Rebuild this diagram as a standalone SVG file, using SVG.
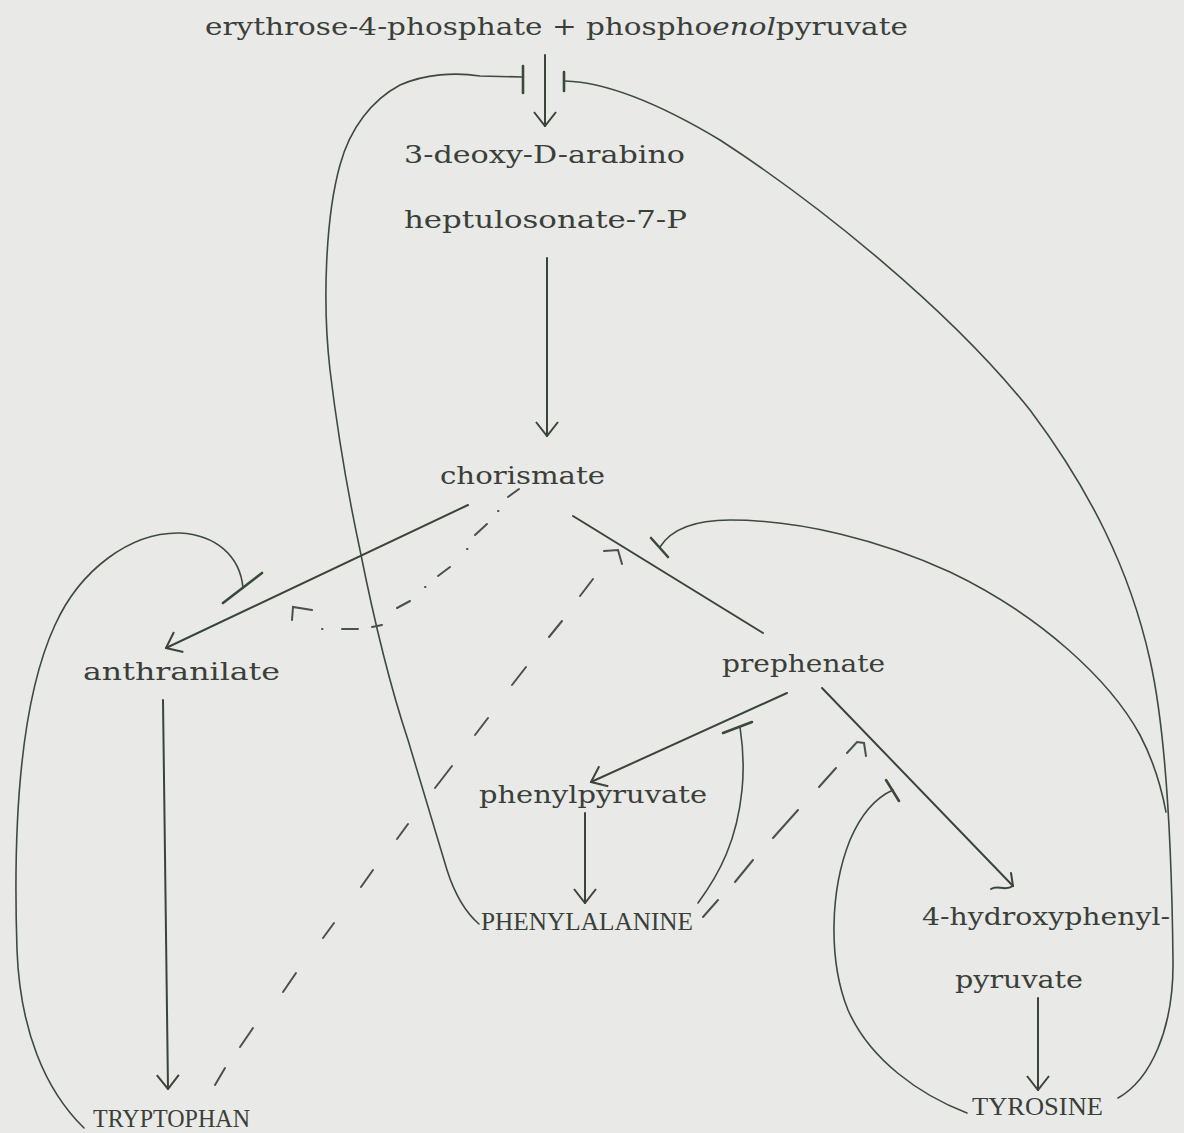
<svg xmlns="http://www.w3.org/2000/svg" width="1184" height="1133" viewBox="0 0 1184 1133">
<defs>
<marker id="arr" viewBox="0 0 16 24" refX="15" refY="12" markerWidth="16" markerHeight="24" markerUnits="userSpaceOnUse" orient="auto">
<path d="M1,1 L15,12 L1,23" fill="none" stroke="#3a4439" stroke-width="2"/>
</marker>
<style>
.t{font-family:"DejaVu Serif","Liberation Serif",serif;font-size:25px;fill:#3a4038}
.c{font-family:"Liberation Serif","Times New Roman",serif;font-size:26px;fill:#3a4038}
.ln{fill:none;stroke:#3a4439;stroke-width:2;stroke-linecap:round}
.cv{fill:none;stroke:#3e4a3d;stroke-width:1.6;stroke-linecap:round}
.bar{fill:none;stroke:#3a4a38;stroke-width:2.6;stroke-linecap:round}
.ds{fill:none;stroke:#4a504a;stroke-width:2;stroke-linecap:round}
</style>
</defs>
<rect width="1184" height="1133" fill="#e9eae8"/>

<g id="nodes">
<g id="n-e4p"><text class="t" x="205" y="35" textLength="703" lengthAdjust="spacingAndGlyphs">erythrose-4-phosphate + phospho<tspan font-style="italic">enol</tspan>pyruvate</text></g>
<g id="n-dahp"><text class="t" x="404" y="163" textLength="281" lengthAdjust="spacingAndGlyphs">3-deoxy-D-arabino</text><text class="t" x="404" y="228" textLength="283" lengthAdjust="spacingAndGlyphs">heptulosonate-7-P</text></g>
<g id="n-chorismate"><text class="t" x="440" y="484" textLength="165" lengthAdjust="spacingAndGlyphs">chorismate</text></g>
<g id="n-anthranilate"><text class="t" x="83" y="680" textLength="197" lengthAdjust="spacingAndGlyphs">anthranilate</text></g>
<g id="n-prephenate"><text class="t" x="722" y="672" textLength="163" lengthAdjust="spacingAndGlyphs">prephenate</text></g>
<g id="n-phenylpyruvate"><text class="t" x="479" y="803" textLength="228" lengthAdjust="spacingAndGlyphs">phenylpyruvate</text></g>
<g id="n-phe"><text class="c" x="481" y="930" textLength="212" lengthAdjust="spacingAndGlyphs">PHENYLALANINE</text></g>
<g id="n-trp"><text class="c" x="93" y="1127" textLength="157" lengthAdjust="spacingAndGlyphs">TRYPTOPHAN</text></g>
<g id="n-4hpp"><text class="t" x="922" y="925" textLength="248" lengthAdjust="spacingAndGlyphs">4-hydroxyphenyl-</text><text class="t" x="955" y="988" textLength="128" lengthAdjust="spacingAndGlyphs">pyruvate</text></g>
<g id="n-tyr"><text class="c" x="972" y="1115" textLength="131" lengthAdjust="spacingAndGlyphs">TYROSINE</text></g>
</g>

<g id="connectors">
<line class="ln" x1="545" y1="55" x2="545" y2="126" marker-end="url(#arr)"/>
<line class="ln" x1="547" y1="258" x2="547" y2="436" marker-end="url(#arr)"/>
<line class="ln" x1="468" y1="505" x2="166" y2="648" marker-end="url(#arr)"/>
<line class="ln" x1="163" y1="700" x2="168" y2="1089" marker-end="url(#arr)"/>
<line class="ln" x1="573" y1="516" x2="763" y2="633"/>
<line class="ln" x1="787" y1="693" x2="591" y2="782" marker-end="url(#arr)"/>
<line class="ln" x1="585" y1="813" x2="585" y2="903" marker-end="url(#arr)"/>
<line class="ln" x1="822" y1="688" x2="1013" y2="886"/>
<path class="ln" d="M991,889 C998,884 1004,892 1013,886 L1011,873"/>
<line class="ln" x1="1038" y1="998" x2="1038" y2="1090" marker-end="url(#arr)"/>

<path class="cv" d="M523,77 L480,76 C455,72 425,74 400,85 C372,100 350,128 340,165 C326,215 322,300 330,370 C336,420 345,480 360,550 C372,610 388,680 408,740 C423,790 435,830 447,870 C455,895 465,912 479,924"/>
<line class="bar" x1="523" y1="66" x2="523" y2="93"/>
<path class="cv" d="M565,81 C600,82 650,98 720,140 C820,205 950,310 1030,410 C1090,490 1130,570 1150,660 C1168,740 1172,870 1173,960 C1174,1030 1150,1080 1118,1098"/>
<line class="bar" x1="564" y1="72" x2="564" y2="91"/>
<path class="cv" d="M660,547 C672,528 695,520 730,520 C800,520 880,540 950,572 C1040,615 1110,680 1140,735 C1152,758 1160,780 1166,812"/>
<line class="bar" x1="651" y1="538" x2="668" y2="557"/>
<path class="cv" d="M243,588 C240,555 215,535 180,533 C130,532 80,570 55,625 C25,690 12,800 17,950 C20,1030 45,1090 84,1128"/>
<line class="bar" x1="223" y1="603" x2="262" y2="573"/>
<path class="cv" d="M698,903 C720,873 737,840 742,790 C745,760 742,740 740,727"/>
<line class="bar" x1="723" y1="733" x2="752" y2="722"/>
<path class="cv" d="M967,1113 C920,1095 870,1060 848,1010 C828,960 830,890 850,840 C862,812 877,797 893,790"/>
<line class="bar" x1="886" y1="780" x2="899" y2="801"/>

<g class="ds">
<line x1="215" y1="1085" x2="225" y2="1068"/>
<line x1="240" y1="1047" x2="253" y2="1028"/>
<line x1="283" y1="992" x2="296" y2="973"/>
<line x1="323" y1="938" x2="334" y2="923"/>
<line x1="361" y1="887" x2="373" y2="870"/>
<line x1="397" y1="839" x2="408" y2="824"/>
<line x1="435" y1="788" x2="452" y2="766"/>
<line x1="475" y1="735" x2="488" y2="718"/>
<line x1="512" y1="685" x2="526" y2="667"/>
<line x1="549" y1="637" x2="562" y2="621"/>
<line x1="580" y1="596" x2="593" y2="579"/>
<path d="M604,551 L618,550 L622,564"/>
</g>
<g class="ds">
<line x1="703" y1="917" x2="718" y2="900"/>
<line x1="735" y1="882" x2="753" y2="860"/>
<line x1="773" y1="838" x2="798" y2="810"/>
<line x1="819" y1="787" x2="836" y2="768"/>
<path d="M847,753 L857,742 L864,743 L866,756"/>
</g>
<g class="ds">
<line x1="508" y1="497" x2="519" y2="489"/>
<line x1="498" y1="511" x2="498.5" y2="511"/>
<line x1="475" y1="535" x2="487" y2="524"/>
<line x1="467" y1="549" x2="467.5" y2="549"/>
<line x1="438" y1="576" x2="450" y2="567"/>
<line x1="425" y1="587" x2="425.5" y2="587"/>
<line x1="397" y1="608" x2="410" y2="601"/>
<line x1="372" y1="627" x2="382" y2="625"/>
<line x1="342" y1="629" x2="358" y2="629"/>
<line x1="322" y1="629" x2="322.5" y2="629"/>
<path d="M292,620 L293,607 L312,610"/>
</g>
</g>
</svg>
